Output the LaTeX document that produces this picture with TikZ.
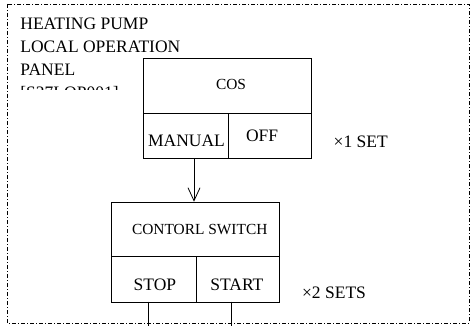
\documentclass[tikz,border=0pt]{standalone}
\usepackage{fontspec}
\setmainfont{Liberation Serif}
\usetikzlibrary{arrows.meta}
\begin{document}
\begin{tikzpicture}[x=1pt,y=-1pt, line width=0.8pt,
 box/.style={draw, rectangle, inner sep=0pt, anchor=north west},
 lbl/.style={anchor=base west, inner sep=0pt},
 big/.style={font=\fontsize{17.5}{21}\selectfont},
 small/.style={font=\fontsize{15.4}{18}\selectfont},
 frame/.style={draw, dash pattern=on 4pt off 2pt on 1pt off 2pt, line width=0.7pt},
 barb/.style={-{Straight Barb[length=13pt,width=12pt]}}]
\useasboundingbox (0,0) rectangle (473,326);
\draw[frame] (7,4) rectangle (469,323);
% heading
\node[lbl,big] (h1) at (20,30) {HEATING PUMP};
\node[lbl,big] (h2) at (20,52.7) {LOCAL OPERATION};
\node[lbl,big] (h3) at (20,76) {PANEL};
\begin{scope}
\clip (0,0) rectangle (473,90);
\node[lbl,big] (h4) at (20,99) {[S27LOP001]};
\end{scope}
% COS box
\node[box, minimum width=168pt, minimum height=54.4pt] (cos) at (142.7,58.3) {};
\node[box, minimum width=85pt, minimum height=45.6pt] (man) at (142.7,112.7) {};
\node[box, minimum width=83pt, minimum height=45.6pt] (off) at (227.7,112.7) {};
\node[lbl,small] (costxt) at (215.7,89.3) {COS};
\node[lbl,big] (mantxt) at (147.7,146) {MANUAL};
\node[lbl,big] (offtxt) at (245.7,141.7) {OFF};
\node[lbl,big] (set1) at (333.3,147) {×1 SET};
% control switch box
\node[box, minimum width=168.3pt, minimum height=54.6pt] (ctl) at (110.7,201.7) {};
\node[box, minimum width=85pt, minimum height=45.4pt] (stop) at (110.7,256.3) {};
\node[box, minimum width=83.3pt, minimum height=45.4pt] (start) at (195.7,256.3) {};
\node[lbl,small] (ctltxt) at (131.7,234) {CONTORL SWITCH};
\node[lbl,big] (stoptxt) at (133.3,290.7) {STOP};
\node[lbl,big] (starttxt) at (210,290.7) {START};
\node[lbl,big] (set2) at (301.7,298.3) {×2 SETS};
% connectors
\coordinate (a0) at (194,158.3);
\coordinate (a1) at (194,201.7);
\draw[barb] (a0) -- (a1);
\coordinate (s1) at (148,301.7);
\coordinate (s2) at (148,326);
\coordinate (t1) at (231.7,301.7);
\coordinate (t2) at (231.7,326);
\draw (s1) -- (s2);
\draw (t1) -- (t2);
\end{tikzpicture}
\end{document}
